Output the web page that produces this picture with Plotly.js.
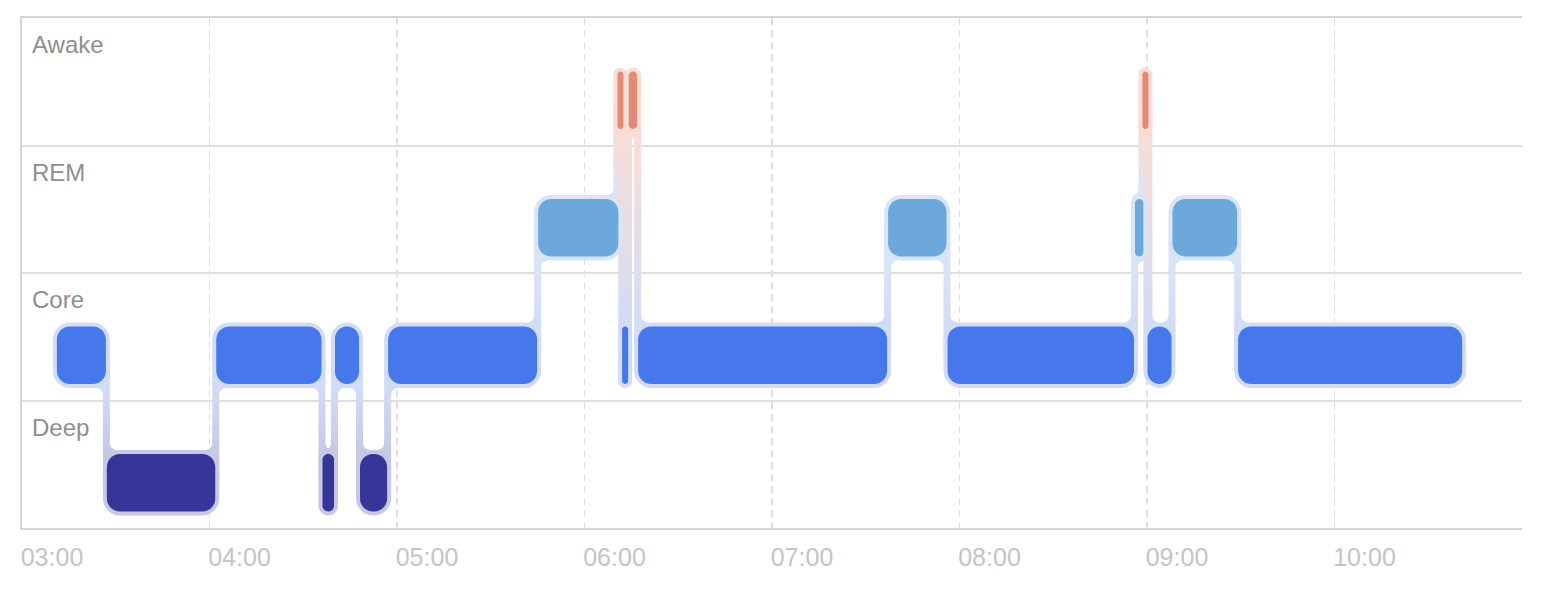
<!DOCTYPE html>
<html>
<head>
<meta charset="utf-8">
<script src="https://cdn.plot.ly/plotly-3.0.1.min.js"></script>
<style>
  html, body { margin: 0; padding: 0; background: #fff; }
  #chart { width: 1550px; height: 598px; }
</style>
</head>
<body>
<div id="chart"></div>
<script>
// Sleep stages, bottom band to top band
const STAGES = ["Deep", "Core", "REM", "Awake"];

// Hour axis
const HOUR_TICKS = [3, 4, 5, 6, 7, 8, 9, 10, 11];
const HOUR_LABELS = ["03:00", "04:00", "05:00", "06:00", "07:00", "08:00", "09:00", "10:00", ""];

// Hypnogram segments (to the minute)
const SEG_STAGE = ["Core", "Deep", "Core", "Deep", "Core", "Deep", "Core", "REM", "Awake", "Core",
                   "Awake", "Core", "REM", "Core", "REM", "Awake", "Core", "REM", "Core"];
const SEG_START = ["03:11", "03:27", "04:02", "04:36", "04:40", "04:48", "04:57", "05:45", "06:11", "06:12",
                   "06:14", "06:17", "07:37", "07:56", "08:56", "08:59", "09:00", "09:08", "09:29"];
const SEG_END   = ["03:27", "04:02", "04:36", "04:40", "04:48", "04:57", "05:45", "06:11", "06:12", "06:14",
                   "06:17", "07:37", "07:56", "08:56", "08:59", "09:00", "09:08", "09:29", "10:41"];

const FILL = { Deep: "#363698", Core: "#4678eb", REM: "#6ca8db", Awake: "#e38a74" };
const HALO = { Deep: "#c7c8e6", Core: "#d3dcf6", REM: "#d9e5f6", Awake: "#f8ddd6" };
const AXIS = "#d4d4d9";
const GRID = "#dedee4";

// page geometry
const W = 1550, H = 598;
const M = { l: 22, r: 28, t: 18, b: 70 };
const X_RANGE = [3, 11], Y_RANGE = [0, 4];
const PX_X = (W - M.l - M.r) / (X_RANGE[1] - X_RANGE[0]);  // px per hour
const PX_Y = (H - M.t - M.b) / (Y_RANGE[1] - Y_RANGE[0]);  // px per band

// bar styling (pixels)
const BAR_POS = 0.355;   // bar centre inside its band
const BAR_HALF = 28.7, PAD = 4, RAD = 13, INSET = 0.5, MIN_W = 6;
const MIN_CONN = 6, FILLET = 7;

function hours(s) { const [h, m] = s.split(":").map(Number); return h + m / 60; }
// data <-> pixel helpers along the axes
const px = (t) => (t - X_RANGE[0]) * PX_X;
const py = (v) => (v - Y_RANGE[0]) * PX_Y;
const dx = (p) => X_RANGE[0] + p / PX_X;
const dy = (p) => Y_RANGE[0] + p / PX_Y;
const pt = (x, y) => dx(x).toFixed(5) + "," + dy(y).toFixed(5);

function roundedPath(x0, x1, y0, y1, r) {
  r = Math.min(r, (x1 - x0) / 2, (y1 - y0) / 2);
  const k = 0.5523 * r;
  return "M" + pt(x0 + r, y0) + " L" + pt(x1 - r, y0) +
    " C" + pt(x1 - r + k, y0) + " " + pt(x1, y0 + r - k) + " " + pt(x1, y0 + r) +
    " L" + pt(x1, y1 - r) +
    " C" + pt(x1, y1 - r + k) + " " + pt(x1 - r + k, y1) + " " + pt(x1 - r, y1) +
    " L" + pt(x0 + r, y1) +
    " C" + pt(x0 + r - k, y1) + " " + pt(x0, y1 - r + k) + " " + pt(x0, y1 - r) +
    " L" + pt(x0, y0 + r) +
    " C" + pt(x0, y0 + r - k) + " " + pt(x0 + r - k, y0) + " " + pt(x0 + r, y0) + " Z";
}

// pixel boxes of every segment
const segs = SEG_STAGE.map((st, i) => {
  let x0 = px(hours(SEG_START[i])) + INSET;
  let x1 = px(hours(SEG_END[i])) - INSET;
  if (x1 - x0 < MIN_W) {
    const c = (x0 + x1) / 2;
    x0 = c - MIN_W / 2; x1 = c + MIN_W / 2;
  }
  const yc = py(STAGES.indexOf(st) + BAR_POS);
  return { st, x0, x1, yc };
});

// connectors between consecutive segments, with a vertical colour gradient
const traces = [];
for (let i = 0; i < segs.length - 1; i++) {
  const A = segs[i], B = segs[i + 1];
  // strip edges flush with the two halos
  let xl = B.x0 - PAD, xr = A.x1 + PAD;
  if (xr - xl < MIN_CONN) {
    const c = (xl + xr) / 2;
    xl = c - MIN_CONN / 2; xr = c + MIN_CONN / 2;
  }
  const d = Math.sign(B.yc - A.yc);
  const eA = A.yc + d * (BAR_HALF + PAD);
  const eB = B.yc - d * (BAR_HALF + PAD);
  const rA = Math.max(0, Math.min(FILLET, xl - (A.x0 - PAD) - 2));
  const rB = Math.max(0, Math.min(FILLET, (B.x1 + PAD) - xr - 2));
  const xs = [], ys = [];
  const add = (x, y) => { xs.push(dx(x)); ys.push(dy(y)); };
  add(xl - rA, A.yc);
  for (let k = 0; k <= 8; k++) {
    const th = (k / 8) * Math.PI / 2;
    add(xl - rA + rA * Math.sin(th), eA + d * rA - d * rA * Math.cos(th));
  }
  add(xl, B.yc);
  add(xr + rB, B.yc);
  for (let k = 0; k <= 8; k++) {
    const th = (k / 8) * Math.PI / 2;
    add(xr + rB - rB * Math.sin(th), eB - d * rB + d * rB * Math.cos(th));
  }
  add(xr, A.yc);
  add(xl - rA, A.yc);
  const lowIsA = eA < eB;
  traces.push({
    type: "scatter", mode: "lines", x: xs, y: ys,
    fill: "toself", line: { width: 0 },
    fillcolor: HALO[A.st],
    fillgradient: {
      type: "vertical",
      start: dy(Math.min(eA, eB)), stop: dy(Math.max(eA, eB)),
      colorscale: [[0, HALO[lowIsA ? A.st : B.st]], [1, HALO[lowIsA ? B.st : A.st]]],
    },
    hoverinfo: "skip", showlegend: false,
  });
}

// halos first, then the coloured bars
const shapes = [];
segs.forEach((s) => {
  shapes.push({
    type: "path", xref: "x", yref: "y", layer: "above",
    path: roundedPath(s.x0 - PAD, s.x1 + PAD, s.yc - BAR_HALF - PAD, s.yc + BAR_HALF + PAD, RAD + PAD),
    fillcolor: HALO[s.st], line: { width: 0 },
  });
});
segs.forEach((s) => {
  shapes.push({
    type: "path", xref: "x", yref: "y", layer: "above",
    path: roundedPath(s.x0, s.x1, s.yc - BAR_HALF, s.yc + BAR_HALF, RAD),
    fillcolor: FILL[s.st], line: { width: 0 },
  });
});

const annotations = STAGES.map((name, i) => ({
  xref: "paper", x: 0, xanchor: "left", xshift: 8,
  yref: "y", y: i + 1, yanchor: "top", yshift: -11,
  text: name, showarrow: false,
  font: { size: 24, color: "#8e8e93" },
}));

const FONT = "Liberation Sans, Arial, Helvetica, sans-serif";
const layout = {
  width: W, height: H,
  margin: M,
  paper_bgcolor: "#fff", plot_bgcolor: "#fff",
  font: { family: FONT },
  showlegend: false,
  xaxis: {
    range: X_RANGE, tickmode: "array", tickvals: HOUR_TICKS, ticktext: HOUR_LABELS,
    showgrid: true, gridcolor: GRID, gridwidth: 1.5, griddash: "7px,5px",
    showline: true, linecolor: AXIS, linewidth: 2, mirror: true,
    zeroline: false, ticks: "", ticklabelshift: 30, ticklabelstandoff: 6,
    tickfont: { size: 25, color: "#c4c4c7", family: FONT },
    fixedrange: true,
  },
  yaxis: {
    range: Y_RANGE, tickmode: "array", tickvals: [0, 1, 2, 3, 4],
    showgrid: true, gridcolor: GRID, gridwidth: 2,
    showline: true, linecolor: AXIS, linewidth: 2,
    zeroline: false, showticklabels: false, ticks: "",
    fixedrange: true,
  },
  shapes, annotations,
};

Plotly.newPlot("chart", traces, layout, { displayModeBar: false, staticPlot: true });
</script>
</body>
</html>
